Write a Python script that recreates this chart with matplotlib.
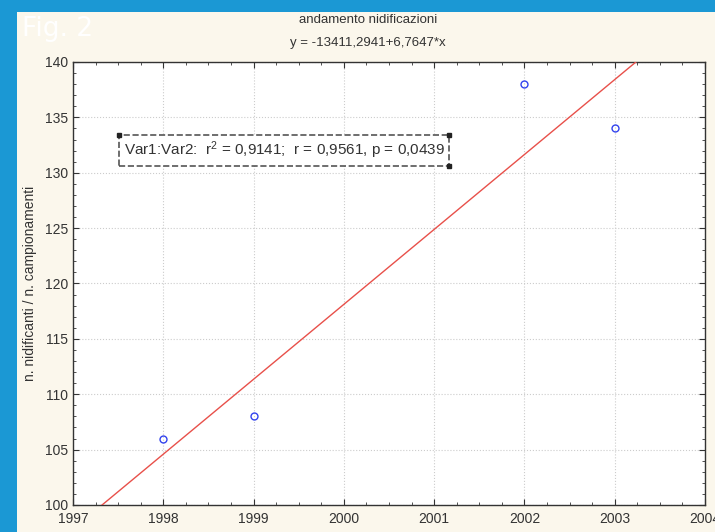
import numpy as np
import matplotlib.pyplot as plt
from matplotlib.patches import Rectangle
from matplotlib.ticker import MultipleLocator

# data
years = [1998, 1999, 2002, 2003]
ratio = [106, 108, 138, 134]
x_ticks = [1997, 1998, 1999, 2000, 2001, 2002, 2003, 2004]
y_ticks = [100, 105, 110, 115, 120, 125, 130, 135, 140]

W, H = 715, 532
fig = plt.figure(figsize=(W / 100, H / 100), dpi=100, facecolor='#1b98d4')

# cream slide panel
fig.patches.append(Rectangle((17 / W, 0), 1 - 17 / W, 1 - 12 / H,
                             transform=fig.transFigure, facecolor='#fbf7ec',
                             edgecolor='none', zorder=-5))

ax = fig.add_axes([73 / W, 1 - 505 / H, (705 - 73) / W, (505 - 62) / H])
ax.set_zorder(2)
ax.set_facecolor('white')

slope, icpt = np.polyfit(years, ratio, 1)
xs = np.array([x_ticks[0], x_ticks[-1]])
ax.plot(xs, icpt + slope * xs, color='#e8504a', lw=1.0, zorder=3)
ax.plot(years, ratio, 'o', mfc='none', mec='#3344ee', ms=5, mew=1.0, zorder=4)

ax.set_xlim(1997, 2004)
ax.set_ylim(100, 140)
ax.set_xticks(x_ticks)
ax.set_yticks(y_ticks)
ax.xaxis.set_minor_locator(MultipleLocator(0.25))
ax.yaxis.set_minor_locator(MultipleLocator(1))
ax.tick_params(which='both', direction='in', top=True, right=True,
               colors='#333333', labelsize=10)
ax.tick_params(which='major', length=4)
ax.tick_params(which='minor', length=2)
ax.tick_params(axis='x', pad=5)
for lab in ax.get_xticklabels() + ax.get_yticklabels():
    lab.set_family('Liberation Sans')
ax.grid(True, which='major', ls=':', color='#cccccc', lw=0.8)
for s in ax.spines.values():
    s.set_color('#333333')
    s.set_linewidth(1.0)

ax.set_ylabel('n. nidificanti / n. campionamenti', family='Liberation Sans',
              fontsize=10, color='#333333', labelpad=6)

fig.text(368 / W, 1 - 20 / H, 'andamento nidificazioni', ha='center', va='center',
         family='Liberation Sans', fontsize=9.5, color='#333333')
fig.text(368 / W, 1 - 43 / H, 'y = -13411,2941+6,7647*x', ha='center', va='center',
         family='Liberation Sans', fontsize=9.5, color='#333333')
fig.text(22 / W, 1 - 29 / H, 'Fig. 2', ha='left', va='center',
         family='DejaVu Sans', fontsize=19, color='white')

# stats box with dashed border
stats = ax.text(1997.56, 132.0,
                'Var1:Var2:  $\\mathregular{r^2}$ = 0,9141;  r = 0,9561, p = 0,0439',
                ha='left', va='center', family='Liberation Sans', fontsize=11,
                color='#333333', zorder=6,
                bbox=dict(boxstyle='square,pad=0.3', fc='white', ec='#555555',
                          ls='--', lw=1.2))

# selection handles on the box corners
fig.canvas.draw()
bb = stats.get_bbox_patch().get_window_extent().transformed(ax.transData.inverted())
ax.plot([bb.x0, bb.x1, bb.x1], [bb.y1, bb.y1, bb.y0], 's', color='#222222',
        ms=3, zorder=7, clip_on=False)

fig.savefig('out.png', dpi=100, facecolor=fig.get_facecolor())
